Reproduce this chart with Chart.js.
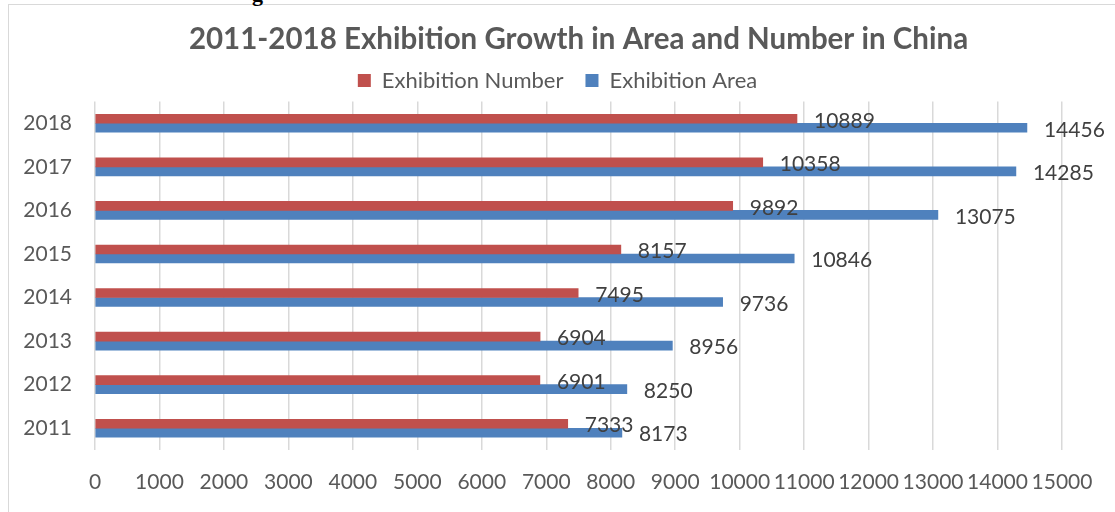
<!DOCTYPE html>
<html>
<head>
<meta charset="utf-8">
<script src="https://cdn.jsdelivr.net/npm/chart.js@4.4.0/dist/chart.umd.min.js"></script>
<style>
  html, body { margin: 0; padding: 0; background: #fff; overflow: hidden; }
  #page { position: relative; width: 1115px; height: 512px; }
  #frame { position: absolute; left: 8px; top: 4px; width: 1200px; height: 600px;
           border: 1.5px solid #d9d9d9; box-sizing: border-box; }
  #above { position: absolute; left: 252px; top: -19px; font: bold 22px "Liberation Serif", serif; color: #000; }
  #wrap { position: absolute; left: 0; top: 0; width: 1115px; height: 512px; }
</style>
</head>
<body>
<div id="page">
  <div id="frame"></div>
  <div id="above">g</div>
  <div id="wrap"><canvas id="chart"></canvas></div>
</div>
<script>
const years = ['2011', '2012', '2013', '2014', '2015', '2016', '2017', '2018'];
const exhibitionNumber = [7333, 6901, 6904, 7495, 8157, 9892, 10358, 10889];
const exhibitionArea = [8173, 8250, 8956, 9736, 10846, 13075, 14285, 14456];
const xTicks = [0, 1000, 2000, 3000, 4000, 5000, 6000, 7000, 8000, 9000, 10000, 11000, 12000, 13000, 14000, 15000];

const FONT = 'Lato, "Open Sans", sans-serif';

// value labels just right of each bar end
const valueLabels = {
  id: 'valueLabels',
  afterDatasetsDraw(chart) {
    const ctx = chart.ctx;
    ctx.save();
    ctx.font = '21px ' + FONT;
    ctx.fillStyle = '#404040';
    ctx.textAlign = 'left';
    ctx.textBaseline = 'middle';
    chart.data.datasets.forEach((ds, i) => {
      chart.getDatasetMeta(i).data.forEach((bar, j) => {
        ctx.fillText(String(ds.data[j]), bar.x + 17, bar.y + 2);
      });
    });
    ctx.restore();
  }
};

function drawChart() {
  new Chart(document.getElementById('chart'), {
    type: 'bar',
    data: {
      labels: years,
      datasets: [
        {
          label: 'Exhibition Number',
          data: exhibitionNumber,
          backgroundColor: '#C0504D',
          barThickness: 9
        },
        {
          label: 'Exhibition Area',
          data: exhibitionArea,
          backgroundColor: '#4F81BD',
          barThickness: 9
        }
      ]
    },
    options: {
      indexAxis: 'y',
      responsive: true,
      maintainAspectRatio: false,
      animation: false,
      layout: { padding: 0 },
      scales: {
        x: {
          min: 0,
          max: 15000,
          afterBuildTicks: s => { s.ticks = xTicks.map(v => ({ value: v })); },
          afterFit: s => { s.height = 62; },
          grid: { color: '#d9d9d9', lineWidth: 1.5, drawTicks: false },
          border: { display: false },
          ticks: {
            padding: 20,
            color: '#595959',
            font: { family: FONT, size: 21 },
            maxRotation: 0,
            autoSkip: false,
            callback: v => String(v)
          }
        },
        y: {
          reverse: true,
          afterFit: s => { s.width = 95; },
          grid: { display: false, drawTicks: false },
          border: { display: false },
          ticks: {
            padding: 23,
            color: '#595959',
            font: { family: FONT, size: 21 }
          }
        },
        // empty right-hand strip so the last value labels have room
        yRight: {
          type: 'category',
          position: 'right',
          afterFit: s => { s.width = 53; },
          grid: { display: false, drawTicks: false },
          border: { display: false },
          ticks: { display: false }
        }
      },
      plugins: {
        title: {
          display: true,
          text: '2011-2018 Exhibition Growth in Area and Number in China',
          fullSize: false,
          color: '#595959',
          font: { family: FONT, size: 29.5, weight: 'bold', lineHeight: 1.0 },
          padding: { top: 25, bottom: -7 }
        },
        legend: {
          display: true,
          position: 'top',
          labels: {
            color: '#595959',
            font: { family: FONT, size: 22 },
            boxWidth: 13,
            boxHeight: 13,
            padding: 22
          }
        },
        tooltip: { enabled: false }
      }
    },
    plugins: [valueLabels]
  });
}

// make sure Lato is ready before text gets measured
Promise.all([
  document.fonts.load('21px Lato'),
  document.fonts.load('bold 29.5px Lato')
]).then(drawChart, drawChart);
</script>
</body>
</html>
